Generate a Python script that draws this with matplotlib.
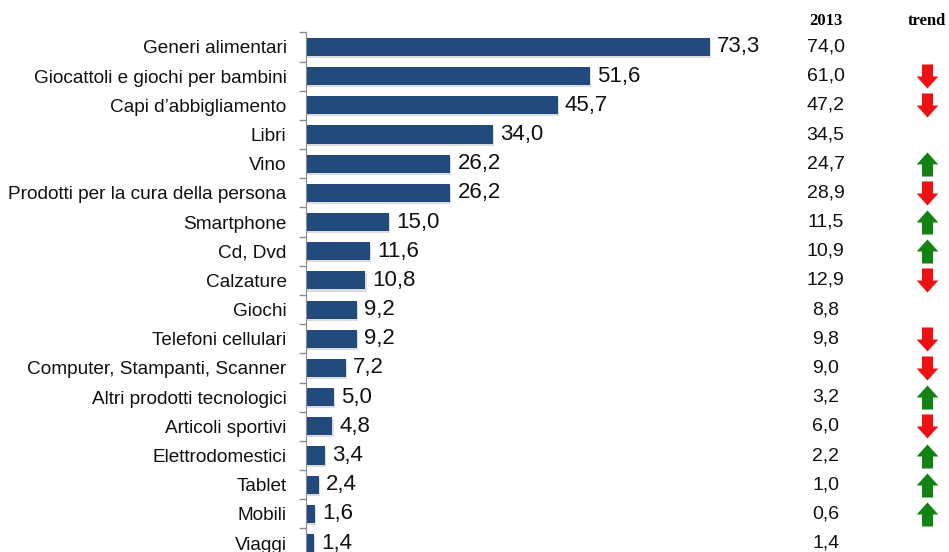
import numpy as np
import matplotlib.pyplot as plt
from matplotlib.path import Path
from matplotlib.transforms import blended_transform_factory

plt.rcParams['font.family'] = ['Liberation Sans', 'DejaVu Sans']

# Data
categories = ["Generi alimentari", "Giocattoli e giochi per bambini", "Capi d\u2019abbigliamento",
              "Libri", "Vino", "Prodotti per la cura della persona", "Smartphone", "Cd, Dvd",
              "Calzature", "Giochi", "Telefoni cellulari", "Computer, Stampanti, Scanner",
              "Altri prodotti tecnologici", "Articoli sportivi", "Elettrodomestici", "Tablet",
              "Mobili", "Viaggi"]
values = [73.3, 51.6, 45.7, 34.0, 26.2, 26.2, 15.0, 11.6, 10.8, 9.2, 9.2, 7.2, 5.0, 4.8, 3.4, 2.4, 1.6, 1.4]
values_2013 = [74.0, 61.0, 47.2, 34.5, 24.7, 28.9, 11.5, 10.9, 12.9, 8.8, 9.8, 9.0, 3.2, 6.0, 2.2, 1.0, 0.6, 1.4]
# +1 up, -1 down, 0 none
trend = [0, -1, -1, 0, 1, -1, 1, 1, -1, 0, -1, -1, 1, -1, 1, 1, 1, 0]

bar_color = '#234A7D'

fig = plt.figure(figsize=(9.49, 5.52), dpi=100)
ax = fig.add_axes([0.3224, -0.0102, 0.4679, 0.9515])

y = np.arange(len(categories))
# subtle shadow
ax.barh(y + 0.07, values, height=0.62, left=0.2, color='#dcdcdc', zorder=1)
ax.barh(y, values, height=0.62, color=bar_color, zorder=2)

for yi, v in zip(y, values):
    ax.text(v + 1.3, yi, f"{v:.1f}".replace('.', ','), va='center', ha='left', fontsize=16, color='#111111')

ax.set_ylim(len(categories) - 0.5, -0.5)
ax.set_xlim(0, 80.6)

ax.set_yticks(y)
ax.set_yticklabels(categories, fontsize=13.7, color='#111111')
ax.set_yticks(np.arange(len(categories) + 1) - 0.5, minor=True)
ax.tick_params(axis='y', which='major', length=0, pad=14)
ax.tick_params(axis='y', which='minor', length=5, color='#8c8c8c', width=1)
ax.set_xticks([])
for s in ['top', 'right', 'bottom']:
    ax.spines[s].set_visible(False)
ax.spines['left'].set_color('#8c8c8c')

tr = blended_transform_factory(fig.transFigure, ax.transData)

# column headers
fig.text(0.870, 0.962, "2013", ha='center', va='center', fontsize=12, fontweight='bold',
         family='Liberation Serif')
fig.text(0.977, 0.962, "trend", ha='center', va='center', fontsize=12, fontweight='bold',
         family='Liberation Serif')

for yi, v in zip(y, values_2013):
    ax.text(0.870, yi, f"{v:.1f}".replace('.', ','), transform=tr, ha='center', va='center',
            fontsize=14, color='#111111', clip_on=False)

down_path = Path([(-0.23, 0.5), (0.23, 0.5), (0.23, 0.0), (0.45, 0.0), (0.0, -0.5),
                  (-0.45, 0.0), (-0.23, 0.0), (-0.23, 0.5)], closed=True)
up_path = Path([(x, -yy) for x, yy in down_path.vertices], closed=True)

ups = [yi for yi, t in zip(y, trend) if t > 0]
downs = [yi for yi, t in zip(y, trend) if t < 0]
ax.scatter([0.977] * len(ups), ups, marker=up_path, s=300, color='#128212', transform=tr,
           clip_on=False, linewidths=0, zorder=5)
ax.scatter([0.977] * len(downs), downs, marker=down_path, s=300, color='#ee1111', transform=tr,
           clip_on=False, linewidths=0, zorder=5)

fig.savefig('out.png', dpi=100)
